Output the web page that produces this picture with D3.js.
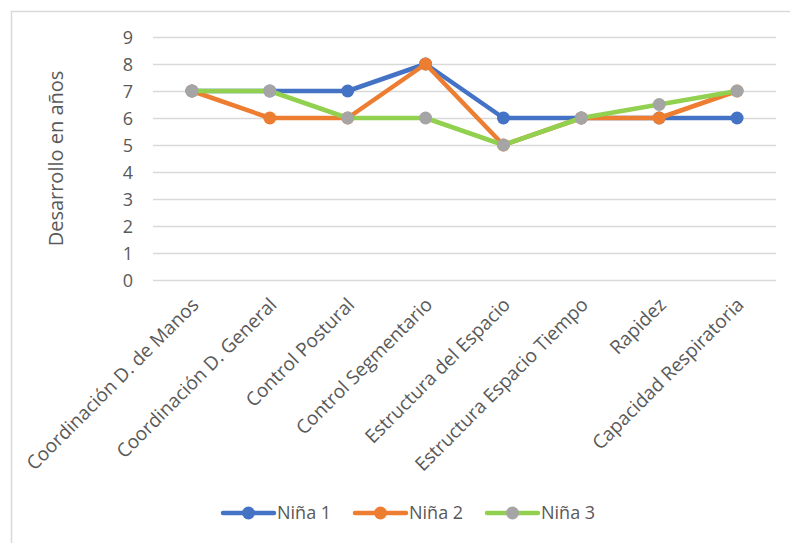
<!DOCTYPE html>
<html>
<head>
<meta charset="utf-8">
<script src="https://cdn.jsdelivr.net/npm/d3@7"></script>
<style>
  body { margin: 0; background: #fff; }
  text { font-family: "Open Sans", Lato, sans-serif; fill: #595959; }
</style>
</head>
<body>
<div id="chart"></div>
<script>
// data
var categories = ["Coordinación D. de Manos", "Coordinación D. General", "Control Postural",
    "Control Segmentario", "Estructura del Espacio", "Estructura Espacio Tiempo",
    "Rapidez", "Capacidad Respiratoria"];
var nina1 = [7, 7, 7, 8, 6, 6, 6, 6];
var nina2 = [7, 6, 6, 8, 5, 6, 6, 7];
var nina3 = [7, 7, 6, 6, 5, 6, 6.5, 7];
var yTicks = [0, 1, 2, 3, 4, 5, 6, 7, 8, 9];

var series = [
    { name: "Niña 1", values: nina1, line: "#4472c4", dot: "#4472c4" },
    { name: "Niña 2", values: nina2, line: "#ed7d31", dot: "#ed7d31" },
    { name: "Niña 3", values: nina3, line: "#92d050", dot: "#a5a5a5" }
];

var svgWidth = 790;
var svgHeight = 543;
var margin = { top: 37, right: 14, bottom: 263, left: 153 };
var width = svgWidth - margin.left - margin.right;
var height = svgHeight - margin.top - margin.bottom;

var svg = d3.select("#chart")
    .append("svg")
    .attr("width", svgWidth)
    .attr("height", svgHeight);

// outer frame
svg.append("rect")
    .attr("x", 11.5)
    .attr("y", 11.5)
    .attr("width", 800)
    .attr("height", 560)
    .attr("fill", "none")
    .attr("stroke", "#d9d9d9")
    .attr("stroke-width", 1.5);

var chartGroup = svg.append("g")
    .attr("transform", `translate(${margin.left}, ${margin.top})`);

var x = d3.scaleBand()
    .domain(categories)
    .range([0, width]);

var y = d3.scaleLinear()
    .domain([0, 9])
    .range([height, 0]);

// gridlines + y labels
var leftAxis = d3.axisLeft(y)
    .tickValues(yTicks)
    .tickSize(-width)
    .tickPadding(20)
    .tickFormat(d3.format("d"));

var yAxis = chartGroup.append("g").call(leftAxis);
yAxis.select(".domain").remove();
yAxis.selectAll("line").attr("stroke", "#d9d9d9").attr("stroke-width", 1.5);
yAxis.selectAll("text")
    .style("font-size", "18px")
    .attr("fill", "#595959")
    .attr("dy", "0.35em");

// x labels rotated
var bottomAxis = d3.axisBottom(x).tickSize(0).tickPadding(0);
var xAxis = chartGroup.append("g")
    .attr("transform", `translate(0, ${height})`)
    .call(bottomAxis);
xAxis.select(".domain").remove();
xAxis.selectAll("text")
    .style("font-size", "19px")
    .attr("fill", "#595959")
    .attr("text-anchor", "end")
    .attr("dy", null)
    .attr("y", 0)
    .attr("transform", "translate(8, 26) rotate(-45)");

// lines and markers
var line = d3.line()
    .x((d, i) => x(categories[i]) + x.bandwidth() / 2)
    .y(d => y(d));

series.forEach(function(s) {
    chartGroup.append("path")
        .datum(s.values)
        .attr("d", line)
        .attr("fill", "none")
        .attr("stroke", s.line)
        .attr("stroke-width", 4.5)
        .attr("stroke-linejoin", "round");

    chartGroup.selectAll(null)
        .data(s.values)
        .enter()
        .append("circle")
        .attr("cx", (d, i) => x(categories[i]) + x.bandwidth() / 2)
        .attr("cy", d => y(d))
        .attr("r", 6.5)
        .attr("fill", s.dot);
});

// y axis title
svg.append("text")
    .attr("transform", `translate(63, ${margin.top + height / 2}) rotate(-90)`)
    .attr("text-anchor", "middle")
    .style("font-size", "20px")
    .text("Desarrollo en años");

// legend
var legendX = [223, 355, 487];
var legend = svg.selectAll(".legend")
    .data(series)
    .enter()
    .append("g")
    .attr("transform", (d, i) => `translate(${legendX[i]}, 513)`);

legend.append("line")
    .attr("x1", 0).attr("x2", 51)
    .attr("stroke", d => d.line)
    .attr("stroke-width", 4.5)
    .attr("stroke-linecap", "round");

legend.append("circle")
    .attr("cx", 25.5)
    .attr("r", 6.5)
    .attr("fill", d => d.dot);

legend.append("text")
    .attr("x", 54)
    .attr("dy", "0.35em")
    .style("font-size", "18px")
    .text(d => d.name);
</script>
</body>
</html>
